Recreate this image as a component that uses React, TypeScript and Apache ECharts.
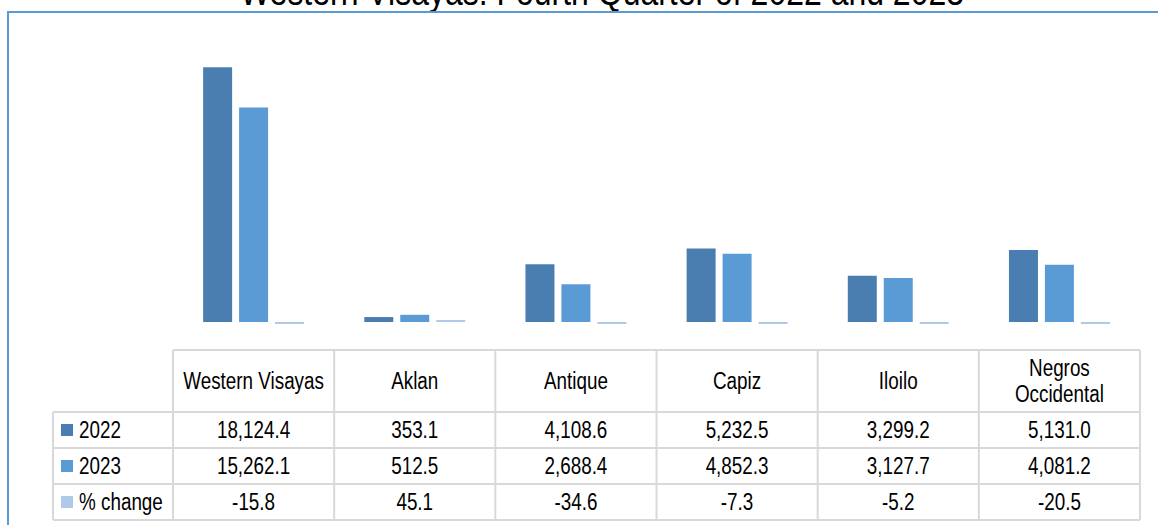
import React, { useEffect, useRef } from "react";
import * as echarts from "echarts";

const TITLE = "Western Visayas: Fourth Quarter of 2022 and 2023";
const categories = ["Western Visayas", "Aklan", "Antique", "Capiz", "Iloilo", "Negros\nOccidental"];
const seriesNames = ["2022", "2023", "% change"];
const values2022 = [18124.4, 353.1, 4108.6, 5232.5, 3299.2, 5131.0];
const values2023 = [15262.1, 512.5, 2688.4, 4852.3, 3127.7, 4081.2];
const pctChange = [-15.8, 45.1, -34.6, -7.3, -5.2, -20.5];
const colors = ["#4A7EB0", "#5B9BD5", "#B0C9E8"];

const FONT = "'Liberation Sans', Arial, sans-serif";
const FS = 23;
const SX = 0.82;

const fmt = (v: number) =>
  v.toLocaleString("en-US", { minimumFractionDigits: 1, maximumFractionDigits: 1 });

export default function App() {
  const ref = useRef<HTMLDivElement>(null);
  useEffect(() => {
    if (!ref.current) return;
    const chart = echarts.init(ref.current, null, { renderer: "svg" });
    const gridLeft = 173;
    const gridRight = 18;
    const W = 1158;
    chart.setOption({
      animation: false,
      color: colors,
      grid: { left: gridLeft, right: gridRight, top: 41, bottom: 203 },
      xAxis: {
        type: "category",
        data: categories,
        axisLine: { show: false },
        axisTick: { show: false },
        axisLabel: { show: false },
      },
      yAxis: { type: "value", min: 0, max: 20000, show: false, splitLine: { show: false } },
      series: [
        { name: seriesNames[0], type: "bar", data: values2022, barWidth: 29, barGap: "24%" },
        { name: seriesNames[1], type: "bar", data: values2023, barWidth: 29, barGap: "24%" },
        {
          name: seriesNames[2],
          type: "bar",
          data: pctChange,
          barWidth: 29,
          barGap: "24%",
          barMinHeight: 2,
          clip: false,
        },
      ],
    });

    const cw = (W - gridLeft - gridRight) / categories.length;
    const rowTops = [350, 412, 448, 484, 520];
    const tableLeft = 53;
    const tableRight = W - gridRight;
    const lineStyle = { stroke: "#D9D9D9", lineWidth: 2 };
    const els: any[] = [];
    const txt = (text: string, x: number, y: number, align: string, size = FS, extra: any = {}) => ({
      type: "text",
      x,
      y,
      scaleX: SX,
      style: {
        text,
        fontFamily: FONT,
        fontSize: size,
        fill: "#000",
        align,
        verticalAlign: "middle",
        ...extra,
      },
      z: 10,
    });
    // frame
    els.push({
      type: "rect",
      shape: { x: 8, y: 12, width: 1300, height: 700 },
      style: { fill: "none", stroke: "#5B9BD5", lineWidth: 2 },
      z: 1,
    });
    // title
    els.push({
      type: "text",
      x: 602,
      y: -28,
      scaleX: SX,
      style: {
        text: TITLE,
        fontFamily: FONT,
        fontSize: 39,
        fill: "#000",
        align: "center",
        verticalAlign: "top",
      },
    });
    // horizontal lines
    rowTops.forEach((y, i) => {
      els.push({
        type: "line",
        shape: { x1: i === 0 ? gridLeft : tableLeft, y1: y, x2: tableRight, y2: y },
        style: lineStyle,
      });
    });
    // vertical lines
    els.push({ type: "line", shape: { x1: tableLeft, y1: rowTops[1], x2: tableLeft, y2: rowTops[4] }, style: lineStyle });
    for (let i = 0; i <= categories.length; i++) {
      const x = gridLeft + i * cw;
      els.push({ type: "line", shape: { x1: x, y1: rowTops[0], x2: x, y2: rowTops[4] }, style: lineStyle });
    }
    // header labels
    categories.forEach((c, i) => {
      const xc = chart.convertToPixel({ xAxisIndex: 0 }, i) as number;
      els.push(txt(c, xc, (rowTops[0] + rowTops[1]) / 2, "center", FS, { lineHeight: 26 }));
    });
    // rows: legend key + values
    const rows = [values2022, values2023, pctChange];
    rows.forEach((arr, r) => {
      const yc = (rowTops[r + 1] + rowTops[r + 2]) / 2;
      els.push({
        type: "rect",
        shape: { x: 61, y: yc - 6, width: 12, height: 12 },
        style: { fill: colors[r] },
        z: 10,
      });
      els.push(txt(seriesNames[r], 79, yc, "left"));
      arr.forEach((v, i) => {
        const xc = chart.convertToPixel({ xAxisIndex: 0 }, i) as number;
        els.push(txt(fmt(v), xc, yc, "center"));
      });
    });
    chart.setOption({ graphic: els });
    return () => chart.dispose();
  }, []);
  return (
    <div
      ref={ref}
      style={{ position: "fixed", left: 0, top: 0, width: 1158, height: 525, background: "#fff" }}
    />
  );
}
